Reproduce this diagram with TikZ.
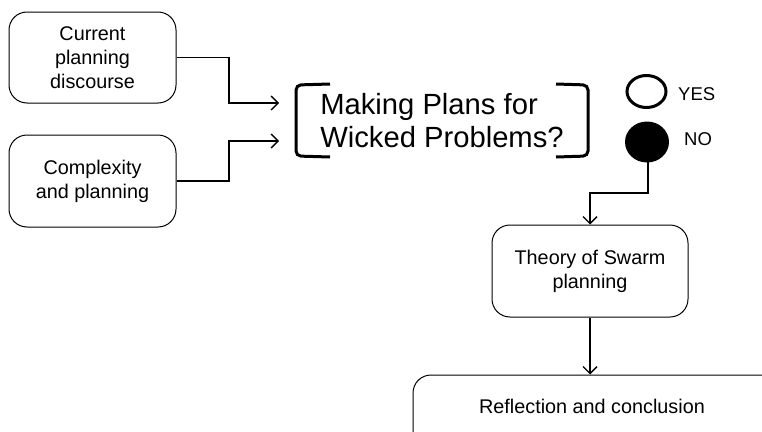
\documentclass[tikz,border=0pt]{standalone}
\usepackage{fontspec}
\setmainfont{Liberation Sans}
\usetikzlibrary{arrows.meta,shapes.geometric}
\tikzset{
  box/.style={draw, line width=1pt, rounded corners=18pt, align=center, inner sep=0pt,
    font=\fontsize{19.8}{24}\selectfont},
  conn/.style={line width=1.4pt, -{Straight Barb[length=7pt,width=14pt,line width=1.4pt]}},
  brack/.style={line width=3pt, rounded corners=5pt},
  lbl/.style={inner sep=0pt, font=\fontsize{18.5}{22}\selectfont, anchor=west},
}
\begin{document}
\begin{tikzpicture}[x=1pt,y=-1pt]
\clip (0,0) rectangle (762,431);
\useasboundingbox (0,0) rectangle (762,431);
\node[box, minimum width=167pt, minimum height=91pt] (cur) at (92.5,57.5) {Current\\planning\\discourse};
\node[box, minimum width=167pt, minimum height=92pt] (cpx) at (92.5,181) {Complexity\\and planning};
% question
\node[inner sep=0pt, align=left, font=\fontsize{29.2}{33}\selectfont] (q) at (442,121) {Making Plans for\\Wicked Problems?};
\coordinate (qin1) at (279,103);
\coordinate (qin2) at (279,141);
\draw[brack] (330,84) -- (296,85) -- (296,156) -- (330,157);
\draw[brack] (556,84) -- (588,85) -- (588,156) -- (556,157);
% yes / no
\node[draw, line width=3pt, ellipse, minimum width=39pt, minimum height=32pt, inner sep=0pt] (yes) at (646.5,91.5) {};
\node[fill=black, ellipse, minimum width=44pt, minimum height=41pt, inner sep=0pt] (no) at (647,142) {};
\node[lbl] (yeslbl) at (678,94) {YES};
\node[lbl] (nolbl) at (684,139) {NO};
% theory
\node[box, minimum width=196pt, minimum height=92pt] (thy) at (590,271) {Theory of Swarm\\planning};
% reflection
\node[draw, line width=1pt, rounded corners=18pt, minimum width=380pt, minimum height=80pt, inner sep=0pt] (reflbox) at (603,415) {};
\node[inner sep=0pt, font=\fontsize{19.8}{24}\selectfont] (refl) at (592,406) {Reflection and conclusion};
% connectors
\draw[conn] (cur.east) -- (229,57.5) |- (qin1);
\draw[conn] (cpx.east) -- (229,181) |- (qin2);
\draw[conn] (648,162) -- (648,193) -- (590,193) -- (thy.north);
\draw[conn] (thy.south) -- (thy.south |- reflbox.north);
\end{tikzpicture}
\end{document}
